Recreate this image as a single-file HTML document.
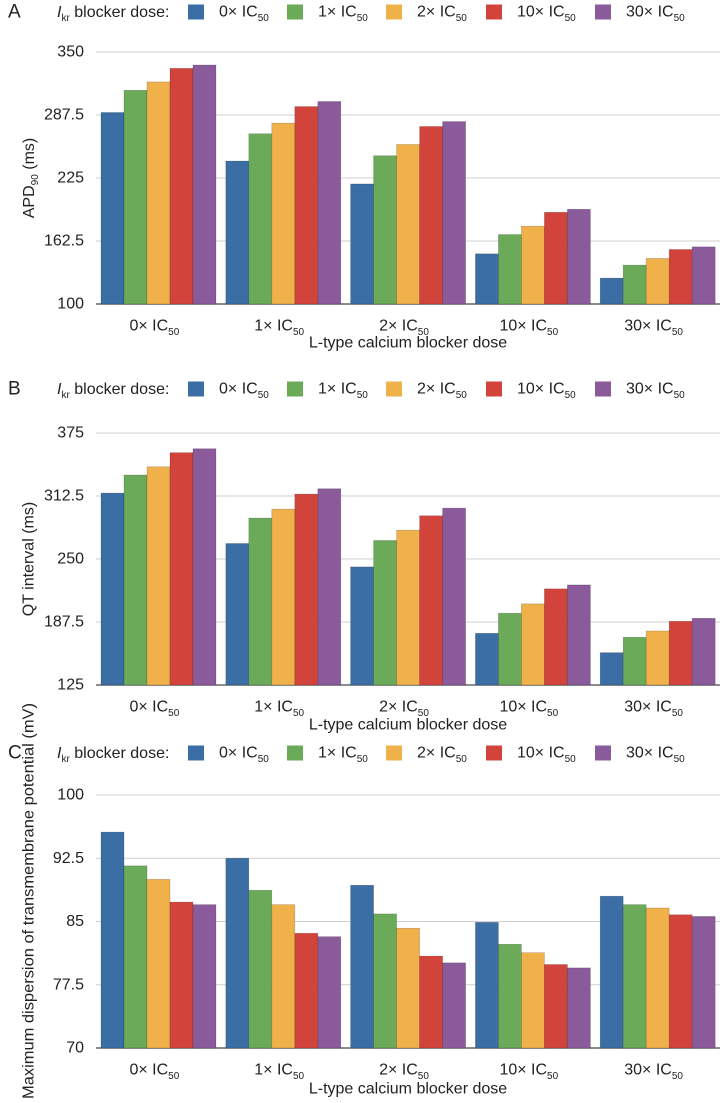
<!DOCTYPE html>
<html><head><meta charset="utf-8"><style>
body{margin:0;background:#fff;}
svg{display:block;font-family:"Liberation Sans",Arial,sans-serif;}
</style></head><body>
<svg id="chart" width="722" height="1103" viewBox="0 0 722 1103" xmlns="http://www.w3.org/2000/svg"></svg>
<script>
const categories = ["0","1","2","10","30"];
const seriesNames = ["0","1","2","10","30"];
const colors = ["#3a6ea5","#6aaa58","#f0b04a","#d2443b","#8a5a9a"];
// Panel A: APD90 (ms), rows = L-type dose, cols = Ikr dose
const apdValues = [
  [290, 312, 320.3, 333.8, 337.1],
  [241.8, 268.9, 279.4, 295.9, 300.9],
  [219.1, 247.1, 258.3, 276.1, 281],
  [149.8, 168.9, 177.2, 191, 194],
  [125.7, 138.6, 145.2, 154.1, 156.7]
];
const apdTicks = [100, 162.5, 225, 287.5, 350];
// Panel B: QT interval (ms)
const qtValues = [
  [315.4, 333.3, 341.5, 355.5, 359.4],
  [265.4, 290.6, 299.5, 314.4, 319.7],
  [242.2, 268.4, 278.6, 292.9, 300.5],
  [176.3, 196.2, 205.5, 220.4, 224.3],
  [157.1, 172.4, 178.6, 188.2, 191.2]
];
const qtTicks = [125, 187.5, 250, 312.5, 375];
// Panel C: max dispersion (mV)
const dispValues = [
  [95.6, 91.6, 90.0, 87.3, 87.0],
  [92.5, 88.7, 87.0, 83.6, 83.2],
  [89.3, 85.9, 84.2, 80.9, 80.1],
  [84.9, 82.3, 81.3, 79.9, 79.5],
  [88.0, 87.0, 86.6, 85.8, 85.6]
];
const dispTicks = [70, 77.5, 85, 92.5, 100];

const NS = "http://www.w3.org/2000/svg";
const svg = document.getElementById("chart");
function mk(tag, attrs, parent) {
  const e = document.createElementNS(NS, tag);
  for (const k in attrs) e.setAttribute(k, attrs[k]);
  (parent || svg).appendChild(e);
  return e;
}
function icText(parent, x, y, prefix, anchor) {
  const t = mk("text", {x: x, y: y, "font-size": 16, fill: "#222", "text-anchor": anchor || "start", "dominant-baseline": "central"}, parent);
  t.appendChild(document.createTextNode(prefix + "\u00d7 IC"));
  const s = mk("tspan", {"font-size": 10, dy: 6}, t);
  s.textContent = "50";
  return t;
}

function panel(opts) {
  const g = mk("g", {});
  
  
  const L = 96, R = 720, top = opts.top, bottom = opts.bottom;
  const t0 = opts.ticks[0], t1 = opts.ticks[opts.ticks.length - 1];
  const yScale = v => bottom - (v - t0) / (t1 - t0) * (bottom - top);
  const pitch = (R - L) / categories.length;
  const xGroup = i => L + i * pitch;
  const barW = 23, barOff = 5;

  const letter = mk("text", {x: 8, y: opts.legY, "font-size": 19, fill: "#222", "dominant-baseline": "central"}, g);
  letter.textContent = opts.letter;
  
  

  const leg = mk("g", {}, g);
  
  
  const lt = mk("text", {x: 57, y: opts.legY, "font-size": 16, fill: "#222", "dominant-baseline": "central"}, leg);
  const ti = mk("tspan", {"font-style": "italic"}, lt); ti.textContent = "I";
  const tk = mk("tspan", {"font-size": 10, dy: 6}, lt); tk.textContent = "kr";
  const tr = mk("tspan", {dy: -6}, lt); tr.textContent = " blocker dose:";
  const swX = [188, 287, 386, 486, 595];
  seriesNames.forEach((s, j) => {
    const it = mk("g", {}, leg);
    
    
    mk("rect", {x: swX[j], y: opts.legY - 7.5, width: 16, height: 15, fill: colors[j]}, it);
    icText(it, swX[j] + 31, opts.legY, s);
  });

  opts.ticks.forEach((t, k) => {
    const y = yScale(t);
    const gl = mk("line", {x1: L, x2: R, y1: y, y2: y, stroke: k === 0 ? "#666" : "#cfcfcf", "stroke-width": k === 0 ? 1.5 : 1}, g);
    
    
    const tl = mk("text", {x: 84, y: y, "font-size": 16, fill: "#222", "text-anchor": "end", "dominant-baseline": "central"}, g);
    tl.textContent = String(t);
    
    
  });

  opts.values.forEach((row, i) => {
    row.forEach((v, j) => {
      const y = yScale(v);
      const b = mk("rect", {x: xGroup(i) + barOff + j * barW, y: y, width: barW, height: bottom - y, fill: colors[j], stroke: "rgba(0,0,0,0.25)", "stroke-width": 0.6}, g);
      
      
    });
    const xl = icText(g, xGroup(i) + pitch / 2 - 4, bottom + 22, categories[i], "middle");
    
    
  });

  const xt = mk("text", {x: 408, y: opts.xTitleY, "font-size": 16, fill: "#222", "text-anchor": "middle", "dominant-baseline": "central"}, g);
  xt.textContent = "L-type calcium blocker dose";
  
  

  const ytAttrs = {x: 0, y: 0, "font-size": 16, fill: "#222", "text-anchor": "middle", "dominant-baseline": "central", transform: "translate(29," + opts.yTitleY + ") rotate(-90)"};
  if (opts.yTitleLen) { ytAttrs.textLength = opts.yTitleLen; ytAttrs.lengthAdjust = "spacingAndGlyphs"; }
  const yt = mk("text", ytAttrs, g);
  if (opts.yTitleSub) {
    const a = mk("tspan", {}, yt); a.textContent = opts.yTitle;
    const sb = mk("tspan", {"font-size": 10, dy: 6}, yt); sb.textContent = opts.yTitleSub;
    const c = mk("tspan", {dy: -6}, yt); c.textContent = opts.yTitleRest;
  } else {
    yt.textContent = opts.yTitle;
  }
  
  
}

panel({name: "panel-a-apd90", letter: "A", legY: 12, top: 52, bottom: 304, ticks: apdTicks, values: apdValues, xTitleY: 343, yTitle: "APD", yTitleSub: "90", yTitleRest: " (ms)", yTitleY: 178});
panel({name: "panel-b-qt-interval", letter: "B", legY: 389, top: 433, bottom: 685, ticks: qtTicks, values: qtValues, xTitleY: 725, yTitle: "QT interval (ms)", yTitleY: 559});
panel({name: "panel-c-dispersion", letter: "C", legY: 753, top: 795, bottom: 1048, ticks: dispTicks, values: dispValues, xTitleY: 1089, yTitle: "Maximum dispersion of transmembrane potential (mV)", yTitleY: 901, yTitleLen: 396});
</script>
</body></html>
